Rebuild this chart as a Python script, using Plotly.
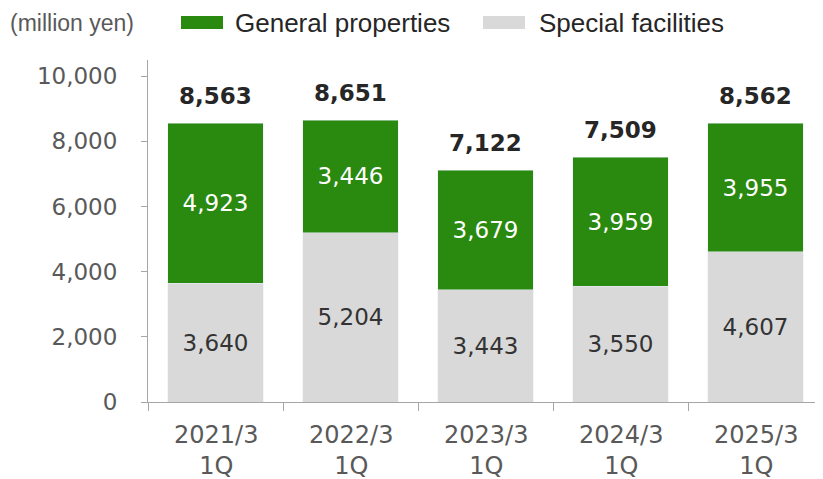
import plotly.graph_objects as go

categories = ["2021/3 1Q", "2022/3 1Q", "2023/3 1Q", "2024/3 1Q", "2025/3 1Q"]
label_line1 = ["2021/3", "2022/3", "2023/3", "2024/3", "2025/3"]
label_line2 = ["1Q", "1Q", "1Q", "1Q", "1Q"]
special = [3640, 5204, 3443, 3550, 4607]
general = [4923, 3446, 3679, 3959, 3955]
totals = [8563, 8651, 7122, 7509, 8562]
series_names = ["General properties", "Special facilities"]

GREEN = "#2A8A10"
GRAY = "#D9D9D9"
FONT = "DejaVu Sans"

# page has an 8px body margin; compensate
OFF = 8
PL, PT, PW, PH = 148, 60, 675, 342  # plot area in page pixels


def px(xp):
    return (xp - PL) / PW


def py(yp):
    return (PT + PH - yp) / PH


fig = go.Figure()
fig.add_trace(go.Bar(
    x=categories, y=special, name=series_names[1], marker_color=GRAY,
    text=[f"{v:,}" for v in special], textposition="inside", insidetextanchor="middle",
    textfont=dict(family=FONT, size=23, color="#333333"), width=0.71,
))
fig.add_trace(go.Bar(
    x=categories, y=general, name=series_names[0], marker_color=GREEN,
    text=[f"{v:,}" for v in general], textposition="inside", insidetextanchor="middle",
    textfont=dict(family=FONT, size=23, color="#FFFFFF"), width=0.71,
))

for c, t in zip(categories, totals):
    fig.add_annotation(x=c, y=t, text=f"<b>{t:,}</b>", showarrow=False,
                       yanchor="bottom", yshift=12,
                       font=dict(family=FONT, size=23, color="#262626"))

for c, l1, l2 in zip(categories, label_line1, label_line2):
    fig.add_annotation(x=c, xref="x", yref="paper", y=py(450), text=f"{l1}<br>{l2}",
                       showarrow=False, yanchor="middle",
                       font=dict(family=FONT, size=24, color="#595959"))

# legend drawn manually
fig.add_shape(type="rect", xref="paper", yref="paper", x0=px(181), x1=px(223),
              y0=py(29), y1=py(16), fillcolor=GREEN, line_width=0)
fig.add_annotation(xref="paper", yref="paper", x=px(233), y=py(23),
                   text=series_names[0], showarrow=False, xanchor="left", yanchor="middle",
                   font=dict(family="Liberation Sans", size=26, color="#262626"))
fig.add_shape(type="rect", xref="paper", yref="paper", x0=px(483), x1=px(525),
              y0=py(29), y1=py(16), fillcolor=GRAY, line_width=0)
fig.add_annotation(xref="paper", yref="paper", x=px(537), y=py(23),
                   text=series_names[1], showarrow=False, xanchor="left", yanchor="middle",
                   font=dict(family="Liberation Sans", size=26, color="#262626"))
fig.add_annotation(xref="paper", yref="paper", x=px(8), y=py(23),
                   text="(million yen)", showarrow=False, xanchor="left", yanchor="middle",
                   font=dict(family="Liberation Sans", size=23, color="#595959"))

fig.update_layout(
    barmode="stack", showlegend=False, bargap=0.29,
    width=823 - OFF, height=479 - OFF,
    margin=dict(l=PL - OFF, r=0, t=PT - OFF, b=479 - (PT + PH)),
    plot_bgcolor="white", paper_bgcolor="white",
    font=dict(family=FONT, color="#595959"),
)
fig.update_yaxes(range=[0, 10500], tickvals=[0, 2000, 4000, 6000, 8000, 10000],
                 tickformat=",", showgrid=False, showline=True, linecolor="#A6A6A6",
                 ticks="outside", ticklen=6, tickcolor="#A6A6A6",
                 tickfont=dict(family=FONT, size=23, color="#595959"), ticklabelstandoff=19,
                 zeroline=False)
fig.update_xaxes(showline=True, linecolor="#A6A6A6", ticks="outside", tickson="boundaries",
                 ticklen=8, tickcolor="#A6A6A6", showgrid=False, showticklabels=False,
                 range=[-0.5, 4.5])

fig.write_html("out.html")
